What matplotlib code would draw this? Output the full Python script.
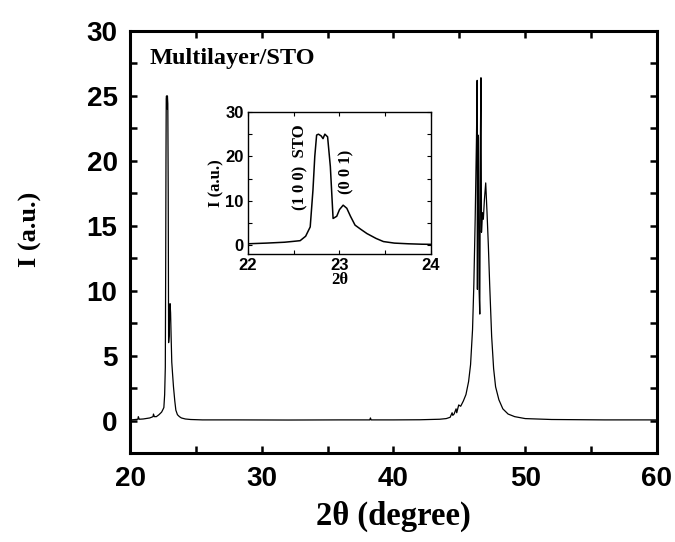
import numpy as np
import matplotlib
matplotlib.use('Agg')
import matplotlib.pyplot as plt

# scan data
two_theta = [20.1, 20.6, 20.63, 20.7, 21.0, 21.5, 21.75, 21.78, 21.85, 22.0,
             22.2, 22.4, 22.5, 22.57, 22.63, 22.68, 22.71, 22.73, 22.75, 22.77,
             22.80, 22.82, 22.84, 22.87, 22.90, 22.93, 22.97, 23.00, 23.04, 23.08,
             23.12, 23.17, 23.23, 23.30, 23.40, 23.48, 23.6, 23.75, 23.9, 24.2,
             24.6, 25.5, 28.0, 32.0, 36.0, 38.2, 38.25, 38.3, 40.0, 42.0,
             43.5, 44.0, 44.3, 44.45, 44.5, 44.6, 44.75, 44.8, 44.95, 45.1,
             45.3, 45.5, 45.7, 45.85, 46.0, 46.1, 46.2, 46.3, 46.35, 46.37,
             46.40, 46.45, 46.5, 46.55, 46.6, 46.64, 46.68, 46.75, 46.82, 46.9,
             47.0, 47.1, 47.2, 47.3, 47.45, 47.6, 47.75, 48.0, 48.3, 48.7,
             49.2, 50.0, 52.0, 56.0, 60.0]
intensity = [0.05, 0.1, 0.3, 0.1, 0.12, 0.2, 0.3, 0.5, 0.3, 0.3,
             0.45, 0.65, 0.85, 1.0, 2.0, 4.1, 12.4, 20.0, 24.8, 25.0,
             24.6, 24.0, 25.0, 24.4, 17.7, 6.0, 6.5, 8.0, 9.0, 8.3,
             6.5, 4.5, 3.6, 2.6, 1.5, 0.8, 0.45, 0.3, 0.2, 0.12,
             0.08, 0.05, 0.05, 0.04, 0.05, 0.05, 0.2, 0.05, 0.05, 0.06,
             0.1, 0.15, 0.25, 0.6, 0.4, 0.5, 0.9, 0.6, 1.2, 1.1,
             1.5, 2.0, 3.0, 4.3, 7.0, 10.5, 15.5, 21.8, 26.2, 10.1,
             22.0, 21.8, 10.0, 8.2, 22.0, 26.4, 14.5, 16.0, 15.5, 17.0,
             18.3, 16.0, 13.5, 10.5, 6.5, 4.0, 2.6, 1.6, 0.9, 0.5,
             0.3, 0.15, 0.08, 0.05, 0.05]

main_xticks = [20, 30, 40, 50, 60]
main_yticks = [0, 5, 10, 15, 20, 25, 30]
inset_xticks = [22, 23, 24]
inset_yticks = [0, 10, 20, 30]

serif = 'Liberation Serif'
sans = 'Liberation Sans'

f = plt.figure(figsize=(6.75, 5.42), dpi=100)
ax = f.add_axes([0.1926, 0.1642, 0.7807, 0.7786])
ax.plot(two_theta, intensity, color='black', lw=0.9)
ax.set_xlim(20, 60)
ax.set_ylim(-2.5, 30)
ax.set_xticks(main_xticks)
ax.set_yticks(main_yticks)
ax.set_xticks(np.arange(25, 60, 10), minor=True)
ax.set_yticks(np.arange(2.5, 30, 5), minor=True)
ax.tick_params(which='both', direction='in', top=True, right=True, width=1.8, length=5)
ax.tick_params(axis='x', pad=9)
ax.tick_params(axis='y', pad=9)
for s in ax.spines.values():
    s.set_linewidth(2.2)
for lab in ax.get_xticklabels() + ax.get_yticklabels():
    lab.set_fontfamily(sans)
    lab.set_fontweight('bold')
    lab.set_fontsize(20)
ax.set_xlabel('2\u03b8 (degree)', family=serif, weight='bold', fontsize=23.5, labelpad=7)
ax.set_ylabel('I (a.u.)', family=serif, weight='bold', fontsize=19)
ax.yaxis.set_label_coords(-0.167, 0.53)
ax.text(0.038, 0.935, 'Multilayer/STO', transform=ax.transAxes, family=serif,
        weight='bold', fontsize=17.5, va='center', ha='left')

# inset
ins = f.add_axes([0.3674, 0.5314, 0.2711, 0.2620])
ins.plot(two_theta, intensity, color='black', lw=1.1)
ins.set_xlim(22, 24)
ins.set_ylim(-2, 30)
ins.set_xticks(inset_xticks)
ins.set_yticks(inset_yticks)
ins.set_xticks([22.5, 23.5], minor=True)
ins.set_yticks([5, 15, 25], minor=True)
ins.tick_params(which='both', direction='in', top=True, right=True, width=0.8, length=3, pad=3)
for s in ins.spines.values():
    s.set_linewidth(1.0)
for lab in ins.get_xticklabels() + ins.get_yticklabels():
    lab.set_fontfamily(sans)
    lab.set_fontweight('bold')
    lab.set_fontsize(12)
ins.set_xlabel('2\u03b8', family=serif, weight='bold', fontsize=12, labelpad=-1)
ins.set_ylabel('I (a.u.)', family=serif, weight='bold', fontsize=12, labelpad=1)
ins.text(22.57, 17.6, '(1 0 0)  STO', rotation=90, family=serif, weight='bold',
         fontsize=12, ha='center', va='center')
ins.text(23.08, 16.5, '(0 0 1)', rotation=90, family=serif, weight='bold',
         fontsize=12, ha='center', va='center')

f.savefig('out.png', dpi=100)
